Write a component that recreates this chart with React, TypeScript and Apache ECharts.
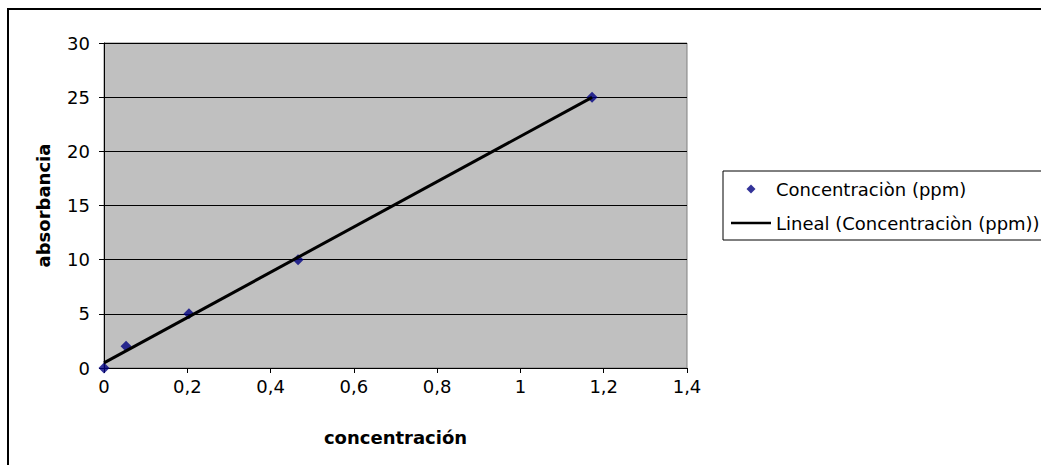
import React, { useEffect, useRef } from "react";
import * as echarts from "echarts";

const concentracion = [0, 0.053, 0.204, 0.466, 1.172];
const absorbancia = [0, 2, 5, 10, 25];
const seriesName = "Concentraciòn (ppm)";
const trendName = "Lineal (Concentraciòn (ppm))";
const xTitle = "concentración";
const yTitle = "absorbancia";

function linearFit(xs: number[], ys: number[]) {
  const n = xs.length;
  const mx = xs.reduce((a, b) => a + b, 0) / n;
  const my = ys.reduce((a, b) => a + b, 0) / n;
  let sxy = 0;
  let sxx = 0;
  for (let i = 0; i < n; i++) {
    sxy += (xs[i] - mx) * (ys[i] - my);
    sxx += (xs[i] - mx) * (xs[i] - mx);
  }
  const slope = sxy / sxx;
  return { slope, intercept: my - slope * mx };
}

export default function App() {
  const ref = useRef<HTMLDivElement>(null);
  useEffect(() => {
    if (!ref.current) return;
    const chart = echarts.init(ref.current, undefined, { renderer: "svg" });
    const fit = linearFit(concentracion, absorbancia);
    const xMin = Math.min(...concentracion);
    const xMax = Math.max(...concentracion);
    const font = "'DejaVu Sans', sans-serif";
    const fs = 18;
    chart.setOption({
      animation: false,
      textStyle: { fontFamily: font },
      graphic: [
        {
          type: "rect",
          shape: { x: 8, y: 9, width: 2000, height: 1000 },
          style: { fill: "none", stroke: "#000", lineWidth: 2 },
          silent: true,
          z: 100,
        },
      ],
      grid: {
        left: 104,
        top: 43,
        right: 354,
        bottom: 97,
        show: true,
        backgroundColor: "#c0c0c0",
        borderColor: "#808080",
        borderWidth: 1,
      },
      legend: {
        orient: "vertical",
        left: 723,
        top: 171,
        padding: [8, 30, 7, 8],
        itemWidth: 40,
        itemHeight: 9,
        itemGap: 14,
        symbolKeepAspect: true,
        borderColor: "#000",
        borderWidth: 1,
        textStyle: { fontFamily: font, fontSize: fs, color: "#000", lineHeight: 20 },
        data: [
          {
            name: seriesName,
            icon: "path://M5,0 L10,5 L5,10 L0,5 Z",
            itemStyle: { color: "#000080" },
          },
          {
            name: trendName,
            icon: "path://M0,0 L40,0 L40,2.5 L0,2.5 Z",
            itemStyle: { color: "#000" },
          },
        ],
      },
      xAxis: {
        type: "value",
        min: 0,
        max: 1.4,
        interval: 0.2,
        name: xTitle,
        nameLocation: "middle",
        nameGap: 60,
        nameTextStyle: { fontFamily: font, fontSize: fs, fontWeight: "bold", color: "#000" },
        axisLine: { show: true, lineStyle: { color: "#000", width: 1 } },
        axisTick: { show: true, length: 5, lineStyle: { color: "#000" } },
        axisLabel: {
          margin: 9,
          fontFamily: font,
          fontSize: fs,
          color: "#000",
          formatter: (v: number) => String(Math.round(v * 10) / 10).replace(".", ","),
        },
        splitLine: { show: false },
      },
      yAxis: {
        type: "value",
        min: 0,
        max: 30,
        interval: 5,
        name: yTitle,
        nameLocation: "middle",
        nameGap: 52,
        nameTextStyle: { fontFamily: font, fontSize: fs, fontWeight: "bold", color: "#000" },
        axisLine: { show: true, lineStyle: { color: "#000", width: 1 } },
        axisTick: { show: true, length: 5, lineStyle: { color: "#000" } },
        axisLabel: { margin: 14, fontFamily: font, fontSize: fs, color: "#000" },
        splitLine: { show: true, lineStyle: { color: "#000", width: 1 } },
      },
      series: [
        {
          name: seriesName,
          type: "scatter",
          symbol: "diamond",
          symbolSize: 11,
          itemStyle: { color: "#000080" },
          data: concentracion.map((x, i) => [x, absorbancia[i]]),
          z: 3,
        },
        {
          name: trendName,
          type: "line",
          showSymbol: false,
          symbol: "none",
          lineStyle: { color: "#000", width: 3 },
          itemStyle: { color: "#000" },
          data: [
            [xMin, fit.intercept + fit.slope * xMin],
            [xMax, fit.intercept + fit.slope * xMax],
          ],
          z: 4,
        },
      ],
    });
    return () => chart.dispose();
  }, []);
  return (
    <div
      ref={ref}
      style={{ position: "absolute", left: 0, top: 0, width: 1041, height: 465, background: "#fff" }}
    />
  );
}
